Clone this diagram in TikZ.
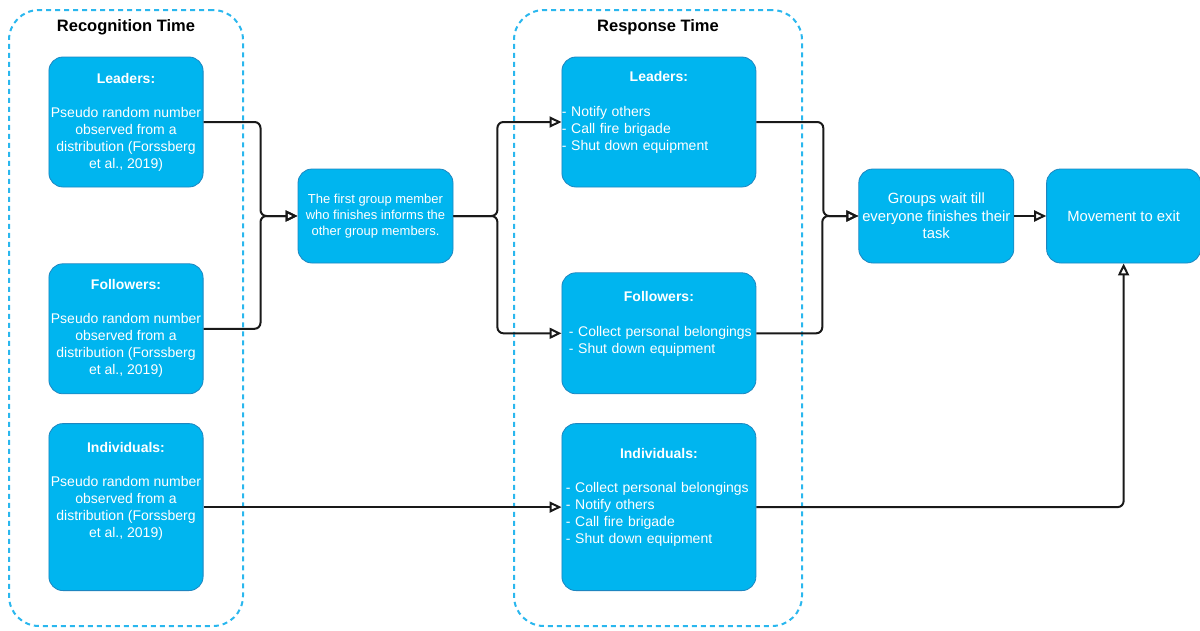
\documentclass[tikz,border=0pt]{standalone}
\usepackage{fontspec}
\setmainfont{Liberation Sans}
\usetikzlibrary{positioning,arrows.meta}

\definecolor{boxblue}{HTML}{00B5EF}
\definecolor{boxedge}{HTML}{1E86C0}
\definecolor{groupblue}{HTML}{2AB7EE}

% title centered, task list left aligned (with indent)
\newcommand{\tasklist}[3]{%
  {\centering\noindent\textbf{#1}\par}\vspace{17.5pt}%
  \noindent\hspace*{#2}\begin{tabular}[t]{@{}l@{}}#3\end{tabular}}

\begin{document}
\begin{tikzpicture}[
  x=1pt, y=-1pt,
  box/.style={
    rectangle, rounded corners=14pt, draw=boxedge, line width=0.8pt,
    fill=boxblue, text=white, inner sep=2pt,
    font=\fontsize{14}{17}\selectfont
  },
  timebox/.style={box, minimum width=154pt, minimum height=130pt, align=center},
  taskbox/.style={box, minimum width=194pt, text width=194pt, inner xsep=0pt, align=left},
  stepbox/.style={box, minimum width=155pt, minimum height=94pt, align=center,
    font=\fontsize{14.8}{17.5}\selectfont},
  group/.style={
    rectangle, rounded corners=30pt, draw=groupblue, line width=2pt,
    dash pattern=on 5pt off 4pt
  },
  grouptitle/.style={inner sep=0pt, font=\fontsize{16.5}{20}\selectfont\bfseries},
  arr/.style={-{Triangle[open, length=12pt, width=11pt]}, line width=2pt,
    draw=black!90, rounded corners=6pt}
]
\useasboundingbox (0,0) rectangle (1200,630);

% Groups
\node[group, minimum width=234pt, minimum height=616pt] (recog) at (126,318) {};
\node[grouptitle, below=10pt of recog.north] (recogtitle) {Recognition Time};
\node[group, minimum width=288pt, minimum height=616pt] (resp) at (658,318) {};
\node[grouptitle, below=10pt of resp.north] (resptitle) {Response Time};

% Recognition time
\node[timebox] (lLead) at (126,122) {%
  \textbf{Leaders:}\\[17pt]
  Pseudo random number\\ observed from a\\ distribution (Forssberg\\ et al., 2019)
};
\node[timebox, below=76pt of lLead] (lFoll) {%
  \textbf{Followers:}\\[17pt]
  Pseudo random number\\ observed from a\\ distribution (Forssberg\\ et al., 2019)
};
\node[timebox, minimum height=167pt, below=29pt of lFoll] (lInd) {%
  \textbf{Individuals:}\\[17pt]
  Pseudo random number\\ observed from a\\ distribution (Forssberg\\ et al., 2019)\\[17pt]\mbox{}
};

% Informing
\node[stepbox, font=\fontsize{13}{16}\selectfont] (inform) at (375.5,216) {%
  The first group member\\ who finishes informs the\\ other group members.
};

% Response time
\node[taskbox, minimum height=130pt, right=358pt of lLead] (rLead) {%
  \tasklist{Leaders:}{0pt}{- Notify others\\ - Call fire brigade\\ - Shut down equipment\\ \mbox{}}
};
\node[taskbox, minimum height=121pt, below=85pt of rLead] (rFoll) {%
  \tasklist{Followers:}{7pt}{- Collect personal belongings\\ - Shut down equipment\\ \mbox{}}
};
\node[taskbox, minimum height=167pt, right=358pt of lInd] (rInd) {%
  \tasklist{Individuals:}{4pt}{- Collect personal belongings\\ - Notify others\\ - Call fire brigade\\ - Shut down equipment\\ \mbox{}}
};

% Waiting and movement
\node[stepbox, right=405pt of inform] (wait) {Groups wait till\\ everyone finishes their\\ task};
\node[stepbox, minimum width=154pt, right=32pt of wait] (move) {Movement to exit};

\draw[arr] (lLead.east) -- ++(57,0) |- (inform.west);
\draw[arr] (lFoll.east) -- ++(57,0) |- (inform.west);
\draw[arr] (inform.east) -- ++(44,0) |- (rLead.west);
\draw[arr] (inform.east) -- ++(44,0) |- (rFoll.west);
\draw[arr] (rLead.east) -- ++(67,0) |- (wait.west);
\draw[arr] (rFoll.east) -- ++(66,0) |- (wait.west);
\draw[arr] (wait) -- (move);
\draw[arr] (lInd) -- (rInd);
\draw[arr] (rInd.east) -| (move.south);
\end{tikzpicture}
\end{document}
